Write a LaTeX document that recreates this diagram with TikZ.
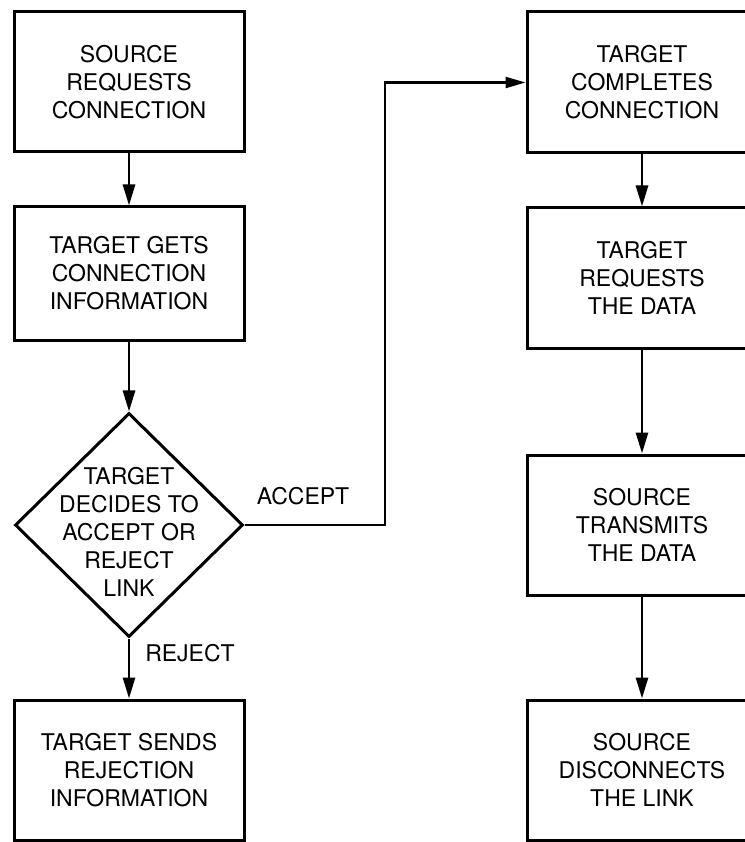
\documentclass[tikz,border=0pt]{standalone}
\usepackage{fontspec}
\setmainfont{TeX Gyre Heros}
\usetikzlibrary{arrows.meta,shapes.geometric}

\begin{document}
\begin{tikzpicture}[x=1pt, y=-1pt,
    box/.style={draw, line width=3pt, minimum width=230pt, minimum height=138pt, align=center, font=\fontsize{23}{28}\selectfont},
    decision/.style={draw, diamond, line width=3pt, minimum width=228pt, minimum height=224pt, inner sep=0pt},
    txt/.style={align=center, font=\fontsize{23}{28}\selectfont},
    flow/.style={line width=2.8pt, -{Triangle[length=21pt, width=12pt]}},
    link/.style={line width=2.2pt, -{Triangle[length=20pt, width=11pt]}}]
  \useasboundingbox (0,0) rectangle (744,842);

  \node[box, minimum height=140pt] (src) at (129,82) {SOURCE\\REQUESTS\\CONNECTION};
  \node[box, minimum height=133pt] (info) at (129,273.5) {TARGET GETS\\CONNECTION\\INFORMATION};
  \node[decision] (decide) at (129,525) {};
  \node[txt] (decidetxt) at (129,532) {TARGET\\DECIDES TO\\ACCEPT OR\\REJECT\\LINK};
  \node[box, minimum height=140pt] (reject) at (129,770) {TARGET SENDS\\REJECTION\\INFORMATION};

  \node[box, minimum height=141pt] (done) at (642,82.5) {TARGET\\COMPLETES\\CONNECTION};
  \node[box, minimum height=140pt] (request) at (642,278) {TARGET\\REQUESTS\\THE DATA};
  \node[box, minimum height=140pt] (transmit) at (642,525) {SOURCE\\TRANSMITS\\THE DATA};
  \node[box, minimum height=140pt] (disconnect) at (642,770) {SOURCE\\DISCONNECTS\\THE LINK};

  \coordinate (bend) at (385,300);
  \node[txt] (accept) at (303,496) {ACCEPT};
  \node[txt] (rejlabel) at (190,653) {REJECT};

  \draw[flow] (src) -- (info);
  \draw[flow] (info) -- (decide);
  \draw[flow] (decide) -- (reject);
  \draw[link] (decide.east) -- (decide.east -| bend) |- (done.west);
  \draw[flow] (done) -- (request);
  \draw[flow] (request) -- (transmit);
  \draw[flow] (transmit) -- (disconnect);
\end{tikzpicture}
\end{document}
